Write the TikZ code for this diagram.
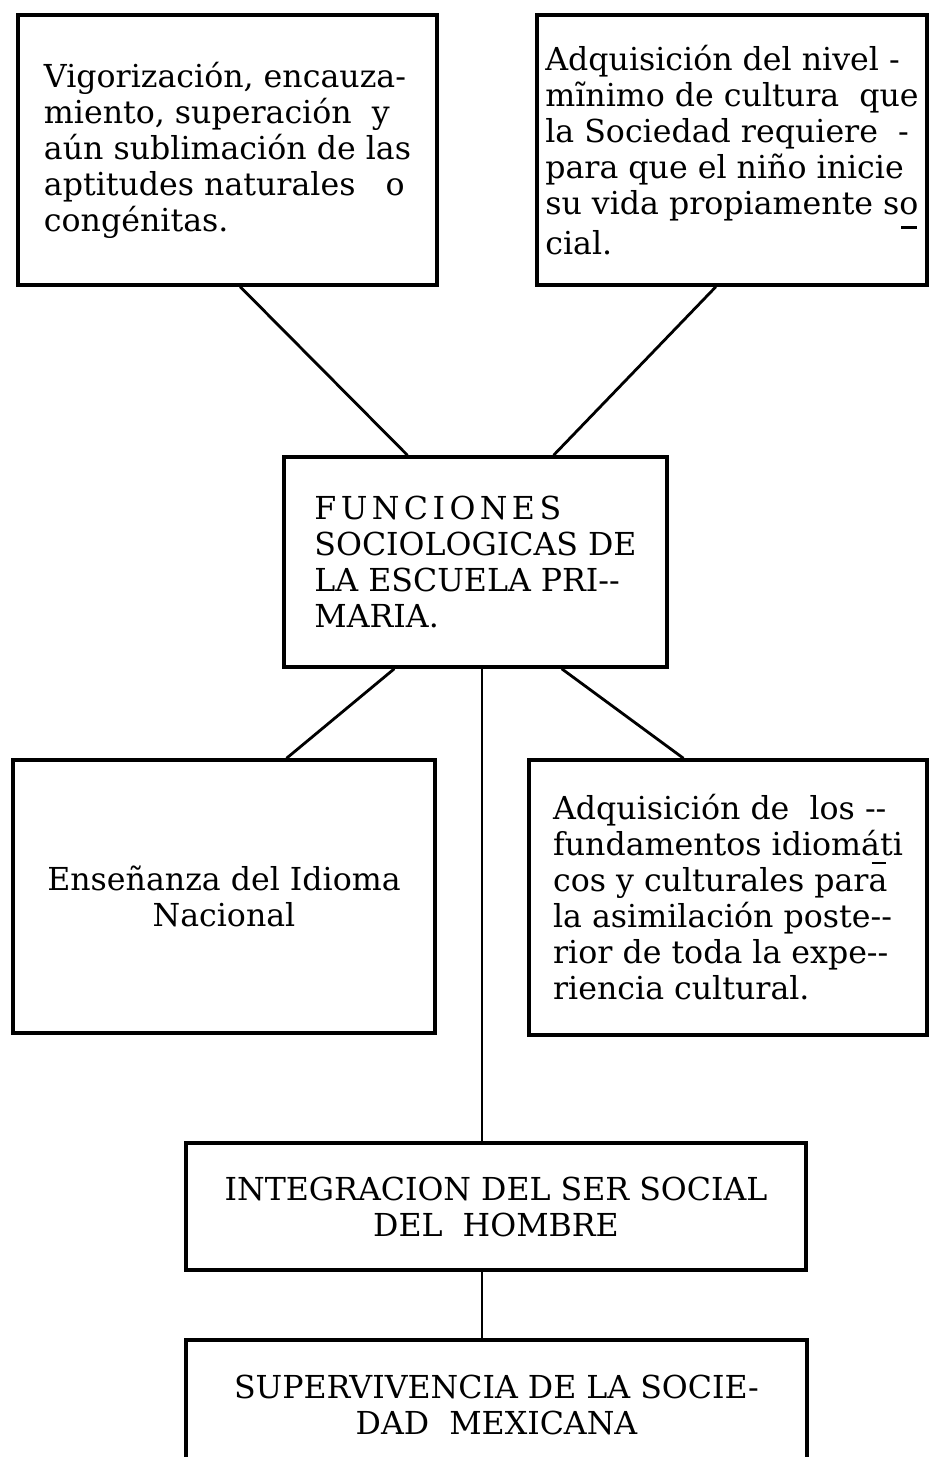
\documentclass[tikz,border=0pt]{standalone}
\usepackage{fontspec}
\setmainfont{DejaVu Serif}
\usetikzlibrary{calc}

% typewriter hyphen marks
\newcommand{\guionbajo}{\rlap{\kern-0.55em\raisebox{-0.45em}{\rule{0.5em}{0.07em}}}}
\newcommand{\guionalto}{\rlap{\kern-0.5em\raisebox{0.88em}{\rule{0.45em}{0.07em}}}}

\begin{document}
\begin{tikzpicture}[x=0.02cm, y=-0.02cm,
    caja/.style={draw, line width=2pt, rectangle, inner sep=0pt,
        font=\fontsize{18}{20.5}\selectfont},
    linea/.style={line width=1.6pt}]

    \useasboundingbox (0,0) rectangle (929,1457);
    \clip (0,0) rectangle (929,1457);

    % Upper boxes
    \node[caja, minimum width=8.38cm, minimum height=5.4cm, align=left] (vigor) at (227.5,150)
        {Vigorización, encauza-\\miento, superación\ \ y\\aún sublimación de las\\aptitudes naturales\ \ \ o\\congénitas.};
    \node[caja, minimum width=7.8cm, minimum height=5.4cm, align=left] (cultura) at (732,150)
        {Adquisición del nivel -\\mĩnimo de cultura\ \ que\\la Sociedad requiere\ \ -\\para que el niño inicie\\su vida propiamente so\guionbajo\\cial.};

    % Central box
    \node[caja, minimum width=7.66cm, minimum height=4.2cm, align=left] (func) at (475.5,562)
        {{\addfontfeature{LetterSpace=14}FUNCIONES}\\SOCIOLOGICAS DE\\LA ESCUELA PRI-{}-\\MARIA.};

    % Middle boxes
    \node[caja, minimum width=8.44cm, minimum height=5.46cm, align=center] (idioma) at (224,896.5)
        {Enseñanza del Idioma\\Nacional};
    \node[caja, minimum width=7.96cm, minimum height=5.5cm, align=left] (fund) at (728,897.5)
        {Adquisición de\ \ los -{}-\\fundamentos idiomáti\\cos y culturales para\guionalto\\la asimilación poste-{}-\\rior de toda la expe-{}-\\riencia cultural.};

    % Lower boxes
    \node[caja, minimum width=12.4cm, minimum height=2.54cm, align=center] (integ) at (496,1206.5)
        {INTEGRACION DEL SER SOCIAL\\DEL\ \ HOMBRE};
    \node[caja, minimum width=12.42cm, minimum height=2.6cm, align=center] (superv) at (496.5,1405)
        {SUPERVIVENCIA DE LA SOCIE-\\DAD\ \ MEXICANA};

    % Connectors
    \draw[linea] ($(vigor.south west)!0.53!(vigor.south east)$) -- ($(func.north west)!0.324!(func.north east)$);
    \draw[linea] ($(cultura.south west)!0.459!(cultura.south east)$) -- ($(func.north west)!0.702!(func.north east)$);
    \draw[linea] ($(func.south west)!0.29!(func.south east)$) -- ($(idioma.north west)!0.647!(idioma.north east)$);
    \draw[linea] ($(func.south west)!0.723!(func.south east)$) -- ($(fund.north west)!0.389!(fund.north east)$);
    \coordinate (eje) at ($(func.south west)!0.517!(func.south east)$);
    \draw[linea] (eje) -- (eje |- integ.north);
    \draw[linea] (eje |- integ.south) -- (eje |- superv.north);

\end{tikzpicture}
\end{document}
